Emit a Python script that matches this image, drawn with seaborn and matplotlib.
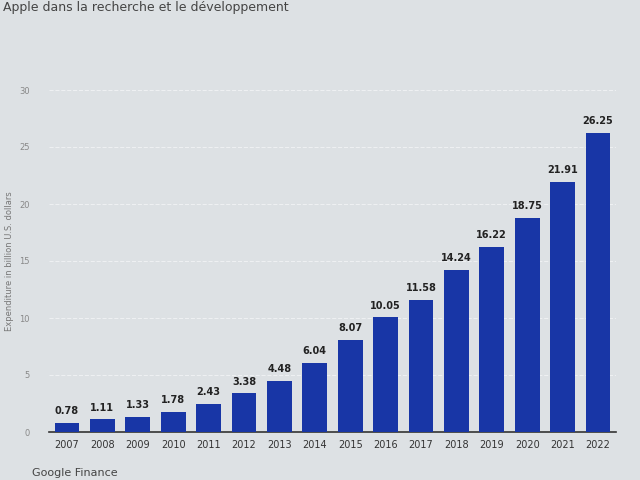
import pandas as pd
import matplotlib.pyplot as plt
import seaborn as sns

years = ['2007', '2008', '2009', '2010', '2011', '2012', '2013', '2014',
         '2015', '2016', '2017', '2018', '2019', '2020', '2021', '2022']
spend = [0.78, 1.11, 1.33, 1.78, 2.43, 3.38, 4.48, 6.04,
         8.07, 10.05, 11.58, 14.24, 16.22, 18.75, 21.91, 26.25]
y_ticks = [0, 5, 10, 15, 20, 25, 30]

df = pd.DataFrame({'Year': years, 'Expenditure': spend})

sns.set_style('white')
plt.rcParams['font.family'] = ['DejaVu Sans']

fig = plt.figure(figsize=(6.4, 4.8), dpi=100, facecolor='#dde1e4')
ax = fig.add_axes([0.077, 0.1, 0.885, 0.7125])
ax.set_facecolor('#dde1e4')

sns.barplot(data=df, x='Year', y='Expenditure', color='#1836a6', saturation=1,
            width=0.7, ax=ax, zorder=3, linewidth=0, edgecolor='none')

for i, v in enumerate(spend):
    ax.text(i, v + 0.6, f'{v:.2f}', ha='center', va='bottom',
            fontsize=7, fontweight='bold', color='#222222')

ax.set_ylim(0, 30)
ax.set_xlim(-0.5, 15.5)
ax.set_yticks(y_ticks)
ax.set_yticklabels([str(t) for t in y_ticks], fontsize=6, color='#888888')
ax.tick_params(axis='x', labelsize=7, colors='#333333', length=0, pad=6)
ax.tick_params(axis='y', length=0, pad=14)
ax.yaxis.grid(True, color='#eef0f2', linewidth=0.8, linestyle='--', zorder=0)
ax.set_xlabel('')
ax.set_ylabel('Expenditure in billion U.S. dollars', fontsize=6, color='#777777')
for s in ['top', 'right', 'left']:
    ax.spines[s].set_visible(False)
ax.spines['bottom'].set_color('#333333')
ax.spines['bottom'].set_linewidth(1.2)

fig.text(0.005, 0.997, 'Apple dans la recherche et le développement', fontsize=9,
         color='#444444', va='top', ha='left')
fig.text(0.05, 0.004, 'Google Finance', fontsize=8, color='#444444',
         va='bottom', ha='left')

fig.savefig('out.png', dpi=100, facecolor=fig.get_facecolor())
